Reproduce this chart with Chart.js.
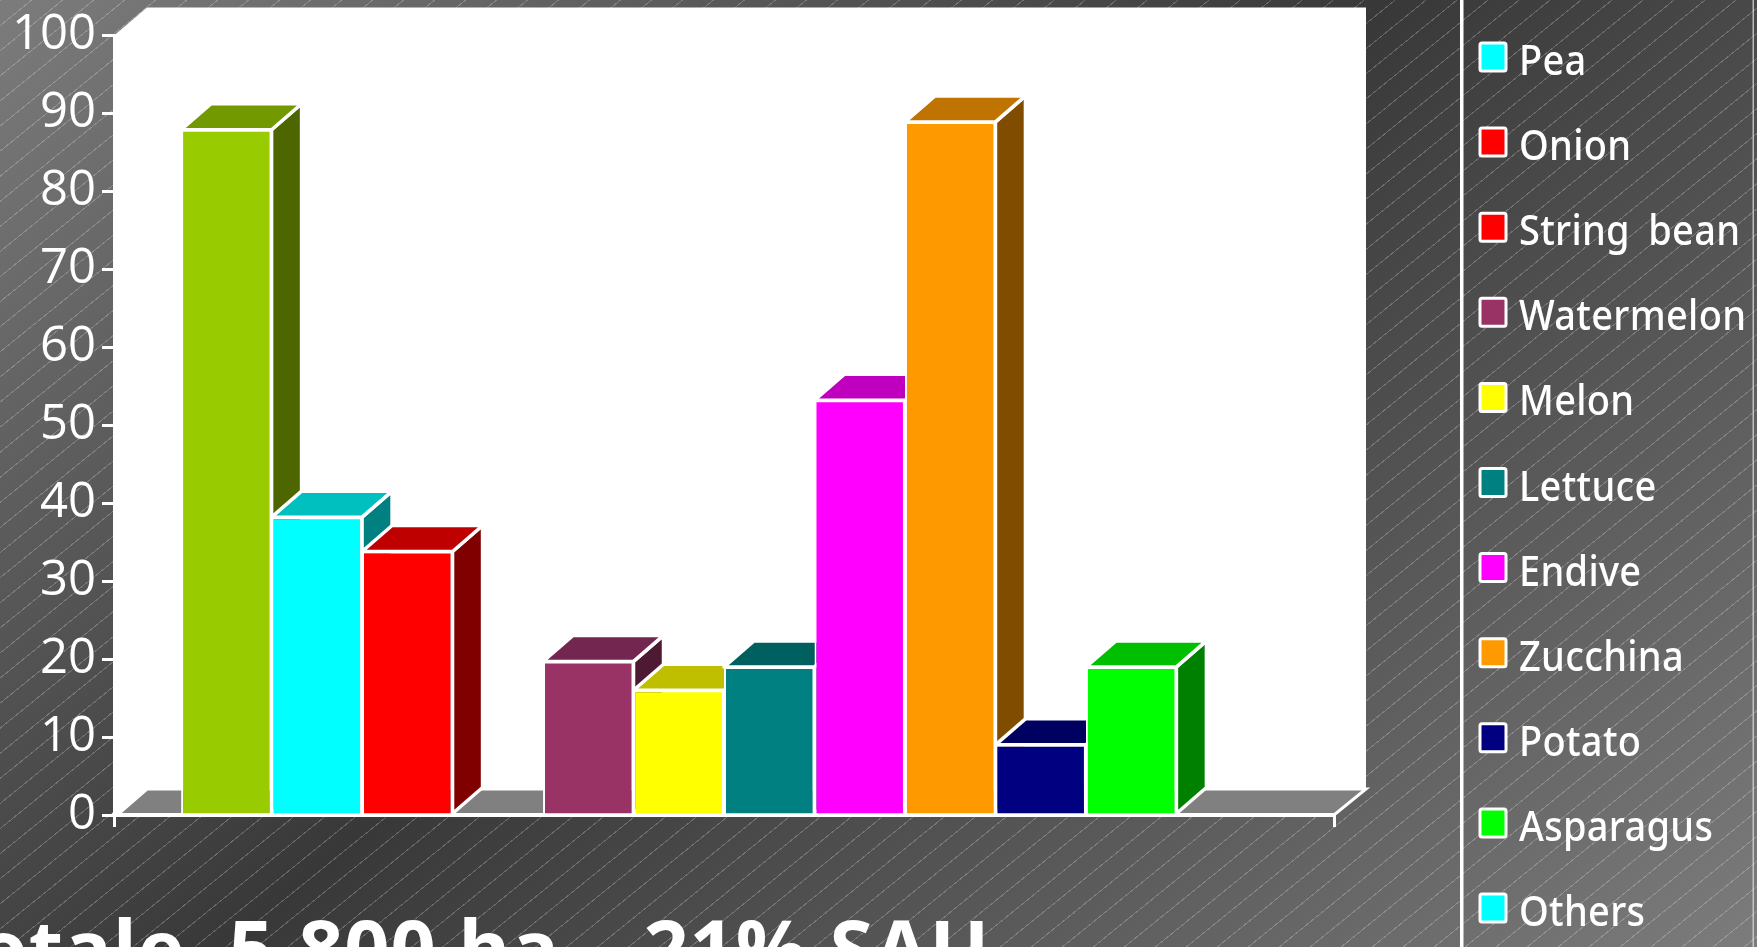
<!DOCTYPE html>
<html><head><meta charset="utf-8">
<style>
html,body{margin:0;padding:0;width:1757px;height:947px;overflow:hidden;background:#444}
#bg{position:absolute;left:0;top:0;width:1757px;height:947px;
background:
 repeating-linear-gradient(141deg,rgba(255,255,255,.22) 0 1px,rgba(255,255,255,0) 1px 19.5px),
 linear-gradient(141deg,#7c7c7c 0%,#383838 47.5%,#7c7c7c 100%);}
canvas{position:absolute;left:0;top:0}
</style>
<script src="https://cdn.jsdelivr.net/npm/chart.js@4/dist/chart.umd.min.js"></script>
</head><body>
<div id="bg"></div>
<div style="position:absolute;left:0;top:0;width:1757px;height:947px"><canvas id="c" width="1757" height="947"></canvas></div>
<script>
const categories = [''];
const seriesNames = ['', 'Pea', 'Onion', 'String bean', 'Watermelon', 'Melon', 'Lettuce', 'Endive', 'Zucchina', 'Potato', 'Asparagus', 'Others'];
const seriesValues = [87.9, 38.2, 33.8, 0, 19.7, 16, 19, 53.2, 88.9, 9, 19, 0];
const frontColors = ['#99CC00', '#00FFFF', '#FF0000', '#FF0000', '#993366', '#FFFF00', '#008080', '#FF00FF', '#FF9900', '#000080', '#00FF00', '#00FFFF'];
const topColors = ['#739900', '#00BFBF', '#BF0000', '#BF0000', '#732650', '#BFBF00', '#006060', '#BF00BF', '#BF7300', '#000060', '#00BF00', '#00BFBF'];
const sideColors = ['#4D6600', '#008080', '#800000', '#800000', '#4D1933', '#808000', '#004040', '#800080', '#804D00', '#000040', '#008000', '#008080'];
const yTicks = [0, 10, 20, 30, 40, 50, 60, 70, 80, 90, 100];
const titleText = 'Totale  5.800 ha – 21% SAU';

const DX = 30, DY = 26;
const plugin3d = {
  id: 'plugin3d',
  beforeDraw(chart) {
    const {ctx, chartArea: a} = chart;
    const wx = 33, wxr = 32, wy = 27, fy = 26;
    ctx.save();
    ctx.fillStyle = '#fff';
    ctx.beginPath();
    ctx.moveTo(a.left, a.top);
    ctx.lineTo(a.left + wx, a.top - wy - 1);
    ctx.lineTo(a.right + wxr, a.top - wy - 1);
    ctx.lineTo(a.right + wxr, a.bottom - fy);
    ctx.lineTo(a.right, a.bottom);
    ctx.lineTo(a.left, a.bottom);
    ctx.closePath();
    ctx.fill();
    ctx.fillStyle = '#808080';
    ctx.strokeStyle = '#fff';
    ctx.lineWidth = 3;
    ctx.beginPath();
    ctx.moveTo(a.left + 3, a.bottom);
    ctx.lineTo(a.left + wx, a.bottom - fy);
    ctx.lineTo(a.right + wxr, a.bottom - fy);
    ctx.lineTo(a.right, a.bottom);
    ctx.closePath();
    ctx.fill();
    ctx.stroke();
    ctx.restore();
  },
  beforeDatasetsDraw(chart) {
    const ctx = chart.ctx;
    ctx.save();
    ctx.strokeStyle = '#fff';
    ctx.lineWidth = 3.5;
    ctx.lineJoin = 'round';
    seriesValues.forEach((v, i) => {
      if (!v) return;
      const el = chart.getDatasetMeta(i).data[0];
      const L = el.x - el.width / 2, R = el.x + el.width / 2, T = el.y, B = el.base;
      ctx.fillStyle = sideColors[i];
      ctx.beginPath();
      ctx.moveTo(R, T); ctx.lineTo(R + DX, T - DY); ctx.lineTo(R + DX, B - DY); ctx.lineTo(R, B);
      ctx.closePath(); ctx.fill(); ctx.stroke();
      ctx.fillStyle = topColors[i];
      ctx.beginPath();
      ctx.moveTo(L, T); ctx.lineTo(L + DX, T - DY); ctx.lineTo(R + DX, T - DY); ctx.lineTo(R, T);
      ctx.closePath(); ctx.fill(); ctx.stroke();
    });
    ctx.restore();
  },
  afterDraw(chart) {
    const ctx = chart.ctx;
    ctx.save();
    ctx.strokeStyle = '#fff';
    ctx.fillStyle = '#fff';
    // legend frame
    ctx.fillRect(1460, 0, 3.5, 947);
    ctx.fillStyle = 'rgba(215,215,215,.8)';
    ctx.fillRect(1752.5, 0, 1.5, 947);
    // legend
    ctx.textBaseline = 'alphabetic';
    ctx.textAlign = 'left';
    seriesNames.forEach((name, i) => {
      if (!name) return;
      const cy = 57 + (i - 1) * 85.1;
      ctx.fillStyle = frontColors[i];
      ctx.lineWidth = 3;
      ctx.beginPath();
      ctx.roundRect(1480, cy - 14, 26, 28, 2);
      ctx.fill();
      ctx.stroke();
      ctx.fillStyle = '#fff';
      ctx.font = '500 38px "Noto Sans"';
      ctx.letterSpacing = '0.3px';
      ctx.wordSpacing = '8px';
      ctx.save();
      ctx.translate(1519, cy + 18);
      ctx.scale(1, 1.09);
      ctx.fillText(name, 0, 0);
      ctx.restore();
    });
    // title
    ctx.letterSpacing = '1px';
    ctx.wordSpacing = '0px';
    ctx.fillStyle = '#fff';
    ctx.font = 'bold 79px "Open Sans"';
    ctx.fillText(titleText, -68, 977);
    ctx.restore();
  }
};

new Chart(document.getElementById('c'), {
  type: 'bar',
  plugins: [plugin3d],
  data: {
    labels: categories,
    datasets: seriesValues.map((v, i) => ({
      label: seriesNames[i],
      data: [v],
      backgroundColor: frontColors[i],
      borderColor: '#fff',
      borderWidth: v ? 2 : 0
    }))
  },
  options: {
    responsive: false,
    animation: false,
    events: [],
    layout: {autoPadding: false, padding: {left: 0, right: 423, top: 35, bottom: 0}},
    plugins: {legend: {display: false}, title: {display: false}, tooltip: {enabled: false}},
    datasets: {bar: {categoryPercentage: 0.89, barPercentage: 1}},
    scales: {
      x: {
        offset: true,
        afterFit(s) { s.height = 132; },
        ticks: {display: false},
        grid: {drawOnChartArea: false, offset: true, color: '#fff', lineWidth: 3, tickLength: 12},
        border: {color: '#fff', width: 4}
      },
      y: {
        min: 0, max: 100,
        afterFit(s) { s.width = 114; },
        afterBuildTicks(s) { s.ticks = yTicks.map(v => ({value: v})); },
        ticks: {color: '#fff', font: {family: '"Open Sans"', size: 49, weight: '500'}, padding: 6},
        grid: {drawOnChartArea: false, color: '#fff', lineWidth: 3, tickLength: 12},
        border: {color: '#fff', width: 3}
      }
    }
  }
});
</script>
</body></html>
